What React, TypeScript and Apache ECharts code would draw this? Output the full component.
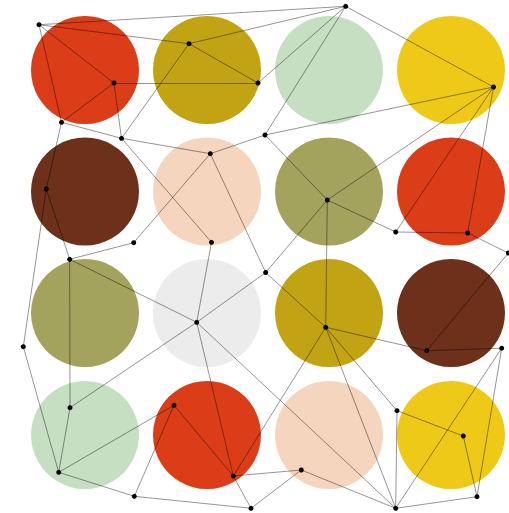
import React, { useEffect, useRef } from "react";
import * as echarts from "echarts";

const circleCols = [85, 207, 329, 451];
const circleRows = [70, 191.5, 313, 435];
const circleColors = [
  ["#DB3D18", "#C2A313", "#C6DFC3", "#EFC918"],
  ["#6D301A", "#F5D5BE", "#A3A35E", "#DB3D18"],
  ["#A3A35E", "#ECECEC", "#C2A313", "#6D301A"],
  ["#C6DFC3", "#DB3D18", "#F5D5BE", "#EFC918"],
];

const nodeNames = ["A","B","C","D","E","F","G","H","I","J","K","L","M","N","O","P","Q","R","S","T","U","V","W","X","Y","Z","a","b","c","d","f","g","h","i","j"];
const nodeX = [39,189,114,258,61.5,121.5,210.3,46.3,133.7,211.5,69.7,345.7,493.5,265,327.3,395.7,467.7,508.3,23.3,196.7,70,174,58.7,233.3,134.3,251,265.7,325.7,426.7,501.7,397,463.3,301.3,395.7,477];
const nodeY = [24.7,43.7,83,83,122.3,138.3,153.7,189,242.7,242.3,259.3,6.3,87,135,200,232,233,253,346.7,322.3,407.7,405.3,472.3,476,496.3,508.3,272.5,327.3,350.7,348.2,410.7,436,470,508.3,496.7];

const edgeSource = ["A","A","A","A","B","B","B","C","C","C","E","E","F","F","G","G","G","H","H","I","J","L","L","L","M","M","M","M","N","O","O","O","P","Q","K","K","S","T","T","T","T","U","W","W","V","V","Y","X","X","X","a","b","b","b","c","c","d","d","f","f","g","h","h","i"];
const edgeTarget = ["L","B","C","E","L","D","F","D","E","F","F","H","G","J","N","I","a","S","K","K","T","D","N","M","N","O","P","Q","O","P","a","b","Q","R","T","U","W","U","a","X","i","W","V","Y","X","Y","Z","Z","h","b","b","c","f","i","d","R","i","j","g","i","j","Z","i","j"];

export default function App() {
  const ref = useRef<HTMLDivElement>(null);
  useEffect(() => {
    if (!ref.current) return;
    const chart = echarts.init(ref.current, null, { renderer: "svg" });
    const circles: any[] = [];
    circleRows.forEach((cy, r) => {
      circleCols.forEach((cx, c) => {
        circles.push({ value: [cx, cy], itemStyle: { color: circleColors[r][c], opacity: 1 } });
      });
    });
    const nodes = nodeNames.map((n, i) => ({ name: n, value: [nodeX[i], nodeY[i]] }));
    const links = edgeSource.map((s, i) => ({ source: s, target: edgeTarget[i] }));
    chart.setOption({
      animation: false,
      grid: { left: 0, right: 0, top: 0, bottom: 0 },
      xAxis: { type: "value", min: 0, max: 509, show: false },
      yAxis: { type: "value", min: 0, max: 513, inverse: true, show: false },
      series: [
        {
          type: "scatter",
          data: circles,
          symbolSize: 108,
          z: 1,
          silent: true,
          itemStyle: { opacity: 1 },
        },
        {
          type: "graph",
          coordinateSystem: "cartesian2d",
          data: nodes,
          links,
          symbolSize: 5,
          z: 2,
          itemStyle: { color: "#000", opacity: 1 },
          lineStyle: { color: "#000", width: 0.7, opacity: 0.6, curveness: 0 },
          label: { show: false },
        },
      ],
    });
    return () => chart.dispose();
  }, []);
  return <div ref={ref} style={{ position: "absolute", left: 0, top: 0, width: 509, height: 513 }} />;
}
